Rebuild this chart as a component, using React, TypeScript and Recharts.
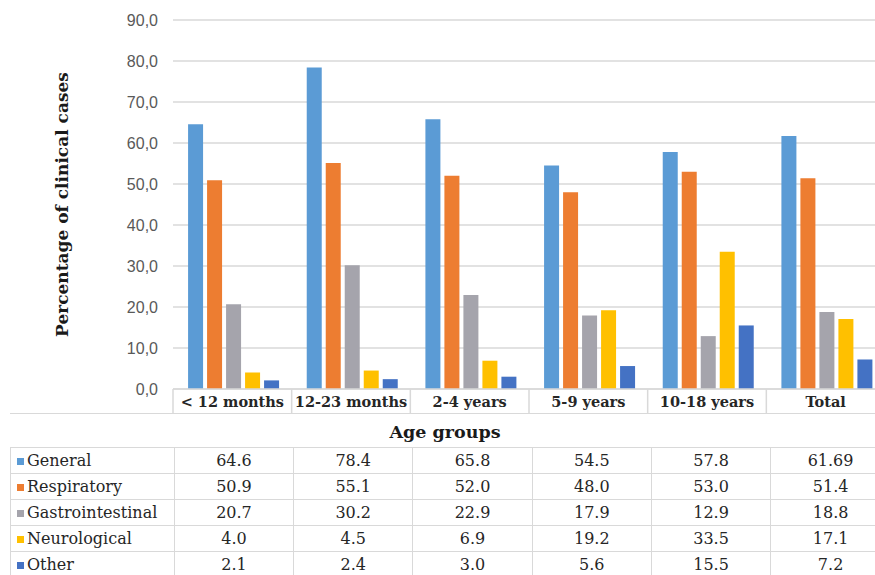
import React from 'react';
import { BarChart, Bar, XAxis, YAxis, CartesianGrid } from 'recharts';

const categories = ['< 12 months', '12-23 months', '2-4 years', '5-9 years', '10-18 years', 'Total'];
const general = [64.6, 78.4, 65.8, 54.5, 57.8, 61.69];
const respiratory = [50.9, 55.1, 52.0, 48.0, 53.0, 51.4];
const gastrointestinal = [20.7, 30.2, 22.9, 17.9, 12.9, 18.8];
const neurological = [4.0, 4.5, 6.9, 19.2, 33.5, 17.1];
const other = [2.1, 2.4, 3.0, 5.6, 15.5, 7.2];
const yTicks = [0, 10, 20, 30, 40, 50, 60, 70, 80, 90];

const series = [
  { key: 'general', name: 'General', color: '#5B9BD5', values: general },
  { key: 'respiratory', name: 'Respiratory', color: '#ED7D31', values: respiratory },
  { key: 'gastrointestinal', name: 'Gastrointestinal', color: '#A5A4AC', values: gastrointestinal },
  { key: 'neurological', name: 'Neurological', color: '#FFC000', values: neurological },
  { key: 'other', name: 'Other', color: '#4472C4', values: other },
];

const data = categories.map((c, i) => {
  const row: any = { group: c };
  series.forEach((s) => (row[s.key] = s.values[i]));
  return row;
});

// chart geometry
const CHART_W = 890;
const Y_AXIS_W = 173;
const MARGIN_RIGHT = 5;
const BAND = (CHART_W - Y_AXIS_W - MARGIN_RIGHT) / categories.length;
const LINE = '#D9D9D9';
const SERIF = '"DejaVu Serif", serif';

const fmt = (v: number) =>
  Math.abs(v * 10 - Math.round(v * 10)) < 1e-9 ? v.toFixed(1) : String(v);

const GroupTick = (props: any) => {
  const { x, y, payload } = props;
  return (
    <g>
      <line x1={x - BAND / 2} x2={x - BAND / 2} y1={y} y2={y + 25} stroke={LINE} strokeWidth={1.5} />
      <text x={x} y={y + 18} textAnchor="middle" fontFamily={SERIF} fontWeight="bold" fontSize={14.5} fill="#262626">
        {payload.value}
      </text>
    </g>
  );
};

const YTitle = (props: any) => {
  const { viewBox } = props;
  const cx = viewBox.x + 62;
  const cy = viewBox.y + viewBox.height / 2;
  return (
    <text
      x={cx}
      y={cy}
      transform={`rotate(-90 ${cx} ${cy})`}
      textAnchor="middle"
      dominantBaseline="central"
      fontFamily={SERIF}
      fontWeight="bold"
      fontSize={17}
      fill="#1a1a1a"
    >
      Percentage of clinical cases
    </text>
  );
};

const cell: React.CSSProperties = {
  borderLeft: `1.5px solid ${LINE}`,
  borderBottom: `1.5px solid ${LINE}`,
  textAlign: 'center',
  padding: 0,
  height: 25,
  fontFamily: SERIF,
  fontSize: 16,
  color: '#262626',
};

export default function App() {
  return (
    <div style={{ position: 'fixed', left: 0, top: 0, width: 875, height: 575, overflow: 'hidden', background: '#fff' }}>
      <BarChart
        width={CHART_W}
        height={414}
        data={data}
        margin={{ top: 20, right: MARGIN_RIGHT, left: 0, bottom: 0 }}
        barCategoryGap="12.7%"
        barGap={4}
      >
        <CartesianGrid vertical={false} stroke={LINE} strokeWidth={1.5} />
        <YAxis
          width={Y_AXIS_W}
          domain={[0, 90]}
          ticks={yTicks}
          axisLine={false}
          tickLine={false}
          tickSize={0}
          tickMargin={15}
          tickFormatter={(v: number) => v.toFixed(1).replace('.', ',')}
          tick={{ fill: '#595959', fontSize: 16, fontFamily: '"Liberation Sans", Arial, sans-serif' }}
          label={{ content: YTitle }}
        />
        <XAxis
          dataKey="group"
          height={25}
          axisLine={{ stroke: LINE, strokeWidth: 1.5 }}
          tickLine={false}
          tickSize={0}
          tickMargin={0}
          interval={0}
          tick={<GroupTick />}
        />
        {series.map((s) => (
          <Bar key={s.key} dataKey={s.key} name={s.name} fill={s.color} isAnimationActive={false} />
        ))}
      </BarChart>
      <div
        style={{
          position: 'absolute',
          left: 10,
          top: 413,
          width: 870,
          height: 34,
          borderTop: `1.5px solid ${LINE}`,
          fontFamily: SERIF,
          fontWeight: 'bold',
          fontSize: 17.5,
          color: '#1a1a1a',
          textAlign: 'center',
          lineHeight: '36px',
        }}
      >
        Age groups
      </div>
      <table
        style={{
          position: 'absolute',
          left: 10,
          top: 447,
          width: CHART_W - 10,
          borderCollapse: 'collapse',
          tableLayout: 'fixed',
          borderTop: `1.5px solid ${LINE}`,
        }}
      >
        <colgroup>
          <col style={{ width: Y_AXIS_W - 10 }} />
          {categories.map((c) => (
            <col key={c} style={{ width: BAND }} />
          ))}
        </colgroup>
        <tbody>
          {series.map((s) => (
            <tr key={s.key}>
              <td style={{ ...cell, textAlign: 'left', whiteSpace: 'nowrap' }}>
                <span
                  style={{
                    display: 'inline-block',
                    width: 7,
                    height: 7,
                    background: s.color,
                    marginLeft: 6,
                    marginRight: 3,
                    verticalAlign: 'middle',
                  }}
                />
                {s.name}
              </td>
              {s.values.map((v, i) => (
                <td key={i} style={cell}>
                  {fmt(v)}
                </td>
              ))}
            </tr>
          ))}
        </tbody>
      </table>
    </div>
  );
}
